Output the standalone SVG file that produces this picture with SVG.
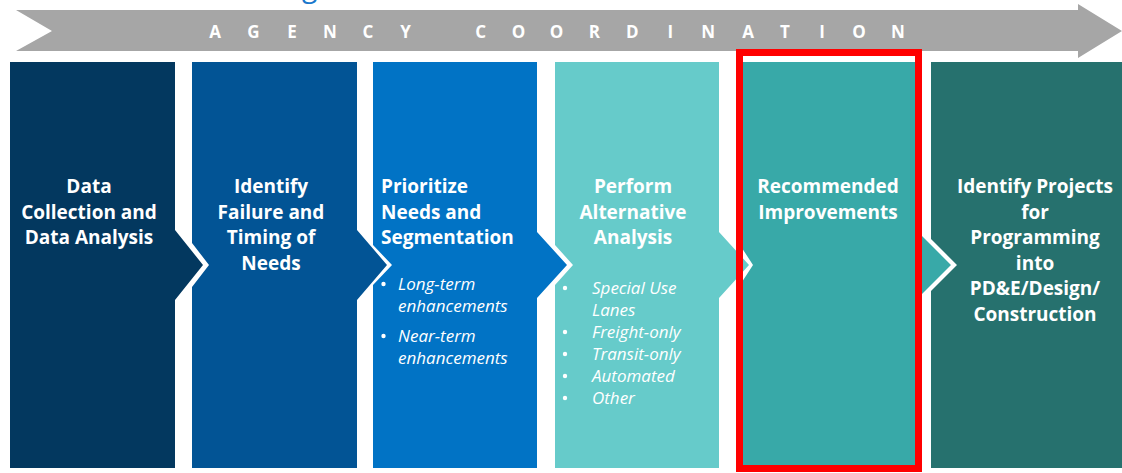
<svg xmlns="http://www.w3.org/2000/svg" width="1122" height="473" viewBox="0 0 1122 473">
<style>
.h{font-family:"Open Sans","Noto Sans","Liberation Sans",sans-serif;font-weight:bold;font-size:19px;fill:#fff}
.c{text-anchor:middle}
.b{font-family:"Open Sans","Noto Sans","Liberation Sans",sans-serif;font-style:italic;font-size:17px;fill:#fff}
.ag{font-family:"Open Sans","Liberation Sans",Arial,sans-serif;font-weight:bold;font-size:17px;fill:#fff;text-anchor:middle}
.dot{fill:#fff}
</style>
<rect width="1122" height="473" fill="#fff"/>
<text x="302" y="-3" font-family="Open Sans, sans-serif" font-size="28" fill="#1B78CC">g</text>
<g id="agency">
<polygon points="16,10 1078,10 1078,4 1122,31 1078,58 1078,51 16,51 52,31" fill="#A6A6A6"/>
<text class="ag" y="37.5" x="215 253.5 291.9 330 368 405.5 480.6 518.5 556.5 594.4 632.3 670.3 708.2 748 785 822 859 897.9">AGENCYCOORDINATION</text>
</g>
<g id="step1">
<polygon points="10,62 175,62 175,230 203,265 175,300 175,468 10,468" fill="#03385F"/>
<text class="h c" x="89" y="193">Data</text>
<text class="h c" x="89" y="219">Collection and</text>
<text class="h c" x="89" y="244">Data Analysis</text>
</g>
<g id="step2">
<polygon points="192,62 357,62 357,230 387,265 357,300 357,468 192,468 192,287 209,265 192,243" fill="#025495"/>
<text class="h c" x="271" y="193">Identify</text>
<text class="h c" x="271" y="219">Failure and</text>
<text class="h c" x="271" y="244">Timing of</text>
<text class="h c" x="271" y="270">Needs</text>
</g>
<g id="step3">
<polygon points="373,62 537,62 537,232 567,265 537,298 537,468 373,468 373,285 392,265 373,245" fill="#0173C5"/>
<text class="h" x="381" y="193">Prioritize</text>
<text class="h" x="381" y="219">Needs and</text>
<text class="h" x="381" y="244">Segmentation</text>
<circle class="dot" cx="383.5" cy="284" r="2.2"/>
<text class="b" x="398" y="290">Long-term</text>
<text class="b" x="398" y="312">enhancements</text>
<circle class="dot" cx="383.5" cy="336" r="2.2"/>
<text class="b" x="398" y="342">Near-term</text>
<text class="b" x="398" y="364">enhancements</text>
</g>
<g id="step4">
<polygon points="555,62 719,62 719,232 749,265 719,298 719,468 555,468 555,285 573,265 555,245" fill="#66CBCA"/>
<text class="h c" x="633" y="193">Perform</text>
<text class="h c" x="633" y="219">Alternative</text>
<text class="h c" x="633" y="244">Analysis</text>
<circle class="dot" cx="565" cy="288" r="2.2"/>
<text class="b" x="592" y="294">Special Use</text>
<text class="b" x="592" y="316">Lanes</text>
<circle class="dot" cx="565" cy="332" r="2.2"/>
<text class="b" x="592" y="338">Freight-only</text>
<circle class="dot" cx="565" cy="354" r="2.2"/>
<text class="b" x="592" y="360">Transit-only</text>
<circle class="dot" cx="565" cy="376" r="2.2"/>
<text class="b" x="592" y="382">Automated</text>
<circle class="dot" cx="565" cy="398" r="2.2"/>
<text class="b" x="592" y="404">Other</text>
</g>
<g id="step5">
<polygon points="740,62 917,62 917,231 951,265 917,299 917,468 740,468 740,285 753,265 740,245" fill="#38A9A8"/>
<text class="h c" x="828" y="193">Recommended</text>
<text class="h c" x="828" y="219">Improvements</text>
</g>
<g id="step6">
<polygon points="931,62 1122,62 1122,468 931,468 931,291 957,265 931,239" fill="#26716E"/>
<text class="h c" x="1035" y="193">Identify Projects</text>
<text class="h c" x="1035" y="218.5">for</text>
<text class="h c" x="1035" y="244">Programming</text>
<text class="h c" x="1035" y="269.5">into</text>
<text class="h c" x="1035" y="295">PD&amp;E/Design/</text>
<text class="h c" x="1035" y="320.5">Construction</text>
</g>
<g id="highlight">
<rect x="739.5" y="52.5" width="179" height="416" fill="none" stroke="#FF0000" stroke-width="7"/>
</g>
</svg>
